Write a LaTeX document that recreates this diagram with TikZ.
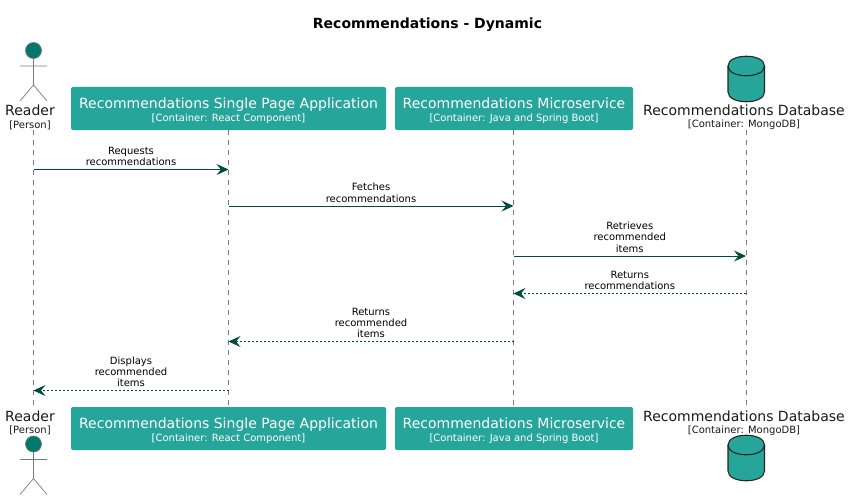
\documentclass[tikz,border=0pt]{standalone}
\usepackage{fontspec}
\setmainfont{DejaVu Sans}
\usetikzlibrary{arrows.meta}
\definecolor{boxteal}{HTML}{26A69A}
\definecolor{headteal}{HTML}{00796B}
\definecolor{msggreen}{HTML}{004D40}
\definecolor{lifegray}{HTML}{7A7A7A}
\tikzset{
  titletext/.style={font=\bfseries\fontsize{14}{16}\selectfont},
  appbox/.style={fill=boxteal, rounded corners=2pt, text=white, align=center, inner sep=0pt, minimum height=43pt},
  roletext/.style={font=\fontsize{14}{16}\selectfont, text=black!90, inner sep=0pt},
  kindtext/.style={font=\fontsize{10}{11}\selectfont, text=black!90, inner sep=0pt},
  msgtext/.style={font=\fontsize{10}{11.4}\selectfont, align=center, inner sep=0pt, above=3pt},
  lifeline/.style={draw=lifegray, line width=0.7pt, dash pattern=on 5pt off 5pt},
  callmsg/.style={draw=msggreen, line width=1pt, -{Stealth[length=12pt,width=11pt,inset=4.5pt]}},
  backmsg/.style={draw=msggreen, line width=0.8pt, dash pattern=on 2pt off 2pt, -{Stealth[length=12pt,width=11pt,inset=4.5pt,sep=0pt]}},
  dbicon/.style={draw=black!85, fill=boxteal, line width=1.1pt},
  stickman/.style={draw=lifegray, line width=0.7pt},
}
\newcommand{\boxlabel}[2]{{\fontsize{14}{16}\selectfont\rule{0pt}{15pt}#1}\\[1pt]{\fontsize{10}{11}\selectfont #2}}
\begin{document}
\begin{tikzpicture}[x=1pt, y=-1pt]
    \useasboundingbox (0,0) rectangle (850,500);
    \node[titletext] (title) at (427.5,24.5) {Recommendations - Dynamic};
    % lifelines
    \coordinate (rtop) at (33.5,130);   \coordinate (rbot) at (33.5,405);
    \coordinate (stop) at (228.5,130);  \coordinate (sbot) at (228.5,405);
    \coordinate (mtop) at (513.5,130);  \coordinate (mbot) at (513.5,405);
    \coordinate (dtop) at (746,130);    \coordinate (dbot) at (746,405);
    \draw[lifeline] (rtop) -- (rbot);
    \draw[lifeline] (stop) -- (sbot);
    \draw[lifeline] (mtop) -- (mbot);
    \draw[lifeline] (dtop) -- (dbot);
    % top row
    \node[appbox, minimum width=315pt] (spatop) at (228.5,108.5) {\boxlabel{Recommendations Single Page Application}{[Container: React Component]}};
    \node[appbox, minimum width=238pt] (mstop) at (514,108.5) {\boxlabel{Recommendations Microservice}{[Container: Java and Spring Boot]}};
    \node[roletext] (readertop) at (30,110) {Reader};
    \node[kindtext] (persontop) at (30,125) {[Person]};
    \node[roletext] (dbtop) at (744,110) {Recommendations Database};
    \node[kindtext] (mongotop) at (744,125) {[Container: MongoDB]};
    % bottom row
    \node[appbox, minimum width=315pt] (spabot) at (228.5,428.5) {\boxlabel{Recommendations Single Page Application}{[Container: React Component]}};
    \node[appbox, minimum width=238pt] (msbot) at (514,428.5) {\boxlabel{Recommendations Microservice}{[Container: Java and Spring Boot]}};
    \node[roletext] (readerbot) at (30,416) {Reader};
    \node[kindtext] (personbot) at (30,430.5) {[Person]};
    \node[roletext] (dbbot) at (744,416) {Recommendations Database};
    \node[kindtext] (mongobot) at (744,430.5) {[Container: MongoDB]};
    % actor and database, top then bottom
    \foreach \dy in {0,393.5} {
      \draw[stickman, fill=headteal] (33.5,50.5+\dy) circle (8);
      \draw[stickman] (20,66+\dy) -- (47,66+\dy) (33.5,58.5+\dy) -- (33.5,85+\dy)
        (20,101+\dy) -- (33.5,85+\dy) -- (47,101+\dy);
    }
    \foreach \dy in {0,379} {
      \draw[dbicon] (728,66+\dy) .. controls (728,53 +\dy) and (764.5,53+\dy) .. (764.5,66+\dy)
        -- (764.5,92+\dy) .. controls (764.5,105+\dy) and (728,105+\dy) .. (728,92+\dy) -- cycle;
      \draw[dbicon, fill=none] (728,66+\dy) .. controls (728,79+\dy) and (764.5,79+\dy) .. (764.5,66+\dy);
    }
    % messages
    \coordinate (r1) at (33.5,169.5);  \coordinate (s1) at (228.5,169.5);
    \coordinate (s2) at (228.5,206);   \coordinate (m2) at (513.5,206);
    \coordinate (m3) at (513.5,256);   \coordinate (d3) at (746,256);
    \coordinate (d4) at (746,293.5);   \coordinate (m4) at (513.5,293.5);
    \coordinate (m5) at (513.5,341.5); \coordinate (s5) at (228.5,341.5);
    \coordinate (s6) at (228.5,390.5); \coordinate (r6) at (33.5,390.5);
    \draw[callmsg] (r1) -- (s1) node[midway, msgtext] {Requests\\recommendations};
    \draw[callmsg] (s2) -- (m2) node[midway, msgtext] {Fetches\\recommendations};
    \draw[callmsg] (m3) -- (d3) node[midway, msgtext] {Retrieves\\recommended\\items};
    \draw[backmsg] (d4) -- (m4) node[midway, msgtext] {Returns\\recommendations};
    \draw[backmsg] (m5) -- (s5) node[midway, msgtext] {Returns\\recommended\\items};
    \draw[backmsg] (s6) -- (r6) node[midway, msgtext] {Displays\\recommended\\items};
\end{tikzpicture}
\end{document}
